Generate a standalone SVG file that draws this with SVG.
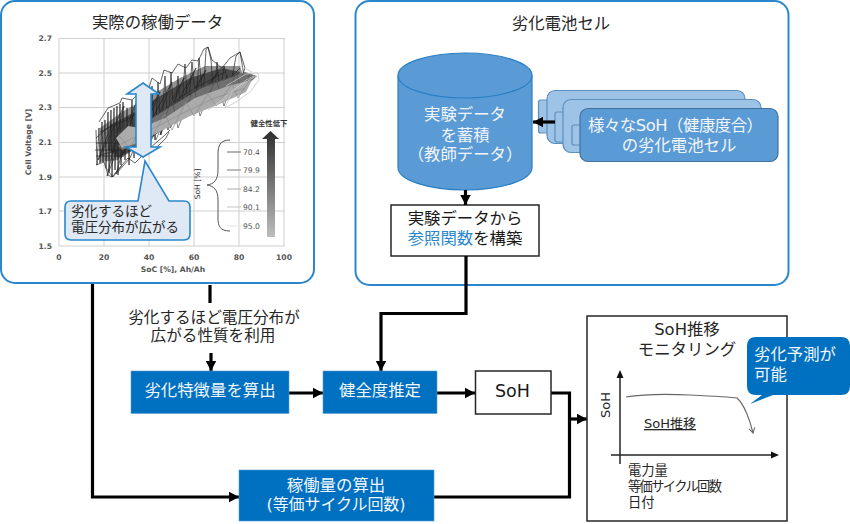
<svg xmlns="http://www.w3.org/2000/svg" width="850" height="524" viewBox="0 0 850 524">
<style>
text{font-family:"DejaVu Sans","Noto Sans CJK JP",sans-serif;fill:#262626;font-size:16.400px}
.m{text-anchor:middle}
.w{fill:#f2f6fb}
.panel{fill:#fff;stroke:#2a87cb;stroke-width:2}
.blue{fill:#0070c0;stroke:#5b9bd5;stroke-width:.6}
.box{fill:#fff;stroke:#262626;stroke-width:1.500}
.con{fill:none;stroke:#000;stroke-width:3.200}
.grid{stroke:#cfcfcf;stroke-width:1;fill:none}
.tick{font-size:7.600px;fill:#555;font-weight:bold}
.leg{font-size:7.600px;fill:#555}
.k{fill:none;stroke:#222;stroke-width:.7}
.d{fill:none;stroke:#4d4d4d;stroke-width:.7}
.g{fill:none;stroke:#8c8c8c;stroke-width:.7}
.l{fill:none;stroke:#c8c8c8;stroke-width:.8}
.light{fill:#dfe9f5;stroke:#2a87cb;stroke-width:1.600}
.stack{fill:#9dc3e6;stroke:#5d8fbd;stroke-width:1.200}
.front{fill:#5b9bd5;stroke:#41719c;stroke-width:1.200}
.cyl{fill:#5b9bd5;stroke:#2a7fc4;stroke-width:1.200}
</style>
<defs>
<marker id="ah" markerUnits="userSpaceOnUse" markerWidth="12" markerHeight="12" refX="11" refY="6" orient="auto"><path d="M1 .8L11 6L1 11.200z" fill="#000"/></marker>
<marker id="sh" markerUnits="userSpaceOnUse" markerWidth="8" markerHeight="8" refX="6" refY="4" orient="auto"><path d="M1 1L6 4L1 7" fill="none" stroke="#666" stroke-width="1"/></marker>
<linearGradient id="gr" x1="0" y1="0" x2="0" y2="1"><stop offset="0" stop-color="#2e2e2e"/><stop offset="1" stop-color="#bdbdbd"/></linearGradient>
<filter id="soft" x="-5%" y="-5%" width="110%" height="110%"><feGaussianBlur stdDeviation=".3"/></filter>
</defs>

<g id="panel-real">
<rect class="panel" x="1" y="1" width="313" height="282" rx="14"/>
<text class="m" x="157.500" y="28">実際の稼働データ</text>
</g>

<g id="chart">
<path class="grid" d="M59 38.500H285M59 73H285M59 107.500H285M59 142.500H285M59 177H285M59 211H285M59 246H285M59 38V246M104 38V246M149 38V246M194 38V246M239 38V246M284 38V246"/>
<g text-anchor="end">
<text class="tick" x="52" y="41">2.7</text><text class="tick" x="52" y="76">2.5</text><text class="tick" x="52" y="110">2.3</text><text class="tick" x="52" y="145">2.1</text><text class="tick" x="52" y="180">1.9</text><text class="tick" x="52" y="214">1.7</text><text class="tick" x="52" y="249">1.5</text>
</g>
<g text-anchor="middle">
<text class="tick" x="59" y="260">0</text><text class="tick" x="104" y="260">20</text><text class="tick" x="149" y="260">40</text><text class="tick" x="194" y="260">60</text><text class="tick" x="239" y="260">80</text><text class="tick" x="284" y="260">100</text>
<text class="tick" x="173" y="272">SoC [%], Ah/Ah</text>
<text class="tick" transform="translate(31 142) rotate(-90)" x="0" y="0">Cell Voltage [V]</text>
</g>
<g filter="url(#soft)">
<path d="M100 128L122 112L150 96L180 78L205 66L240 66L244 78L205 102L170 124L140 146L118 160L100 162z" fill="#3a3a3a" fill-opacity=".55"/>
<path d="M110 125L135 112L160 96L190 78L222 68L240 72L236 88L205 102L170 124L140 146L118 158L108 150z" fill="#4a4a4a"/>
<path class="k" d="M96 130L97 165L99 128L100 163L102 122L103 162L105 120L106 168L108 112L109 172L111 110L112 177L114 108L115 170L117 106L118 175L120 104L121 165L123 102L125 160L127 108L129 165L132 100L134 158L137 104L139 152L142 92L144 150L147 96L149 148L152 86L155 140L158 82L161 135L165 76L168 130L171 72L174 122L178 76L181 118L185 64L188 112L192 62L196 105L199 58L203 100L206 50L208 47L211 60L214 100L217 62L220 95L224 66L230 90L236 56L240 52L243 70L246 85"/>
<path class="k" d="M96 138L112 124L98 160L124 106L107 176L138 98L116 174L130 158L150 110L122 155L160 92L134 152L172 82L146 150L184 78L160 135L196 68L170 128L206 70L182 118L218 72L196 108L228 76L206 102L240 68"/>
<path class="k" d="M99 122L108 108L120 103L122 98L132 100L140 92L148 91L152 78L160 84L164 70L172 73L178 64L186 68L192 60L198 61L204 49L208 47L212 60L222 68L230 58L240 52L245 68L240 82"/>
<path class="k" d="M96 165L104 162L108 175L112 177L122 165L128 158L135 163L142 156L150 150L158 146L166 138L169 132"/>
<path class="k" d="M95 150H118M96 143H130M96 156H124M100 132L126 120L150 105M100 155L120 150L146 128L170 105L195 88L225 72"/>
<path d="M118 146L135 128L170 107L205 86L245 72L257 76L240 92L205 106L170 124L140 144L122 150z" fill="#707070"/>
<path class="d" d="M112 145L128 122L136 146L150 112L156 140L172 100L178 128L194 88L200 116L216 78L224 106L236 72L242 92L250 74"/>
<path class="d" d="M115 135L150 120L190 92L235 76M120 148L160 125L200 104L240 90"/>
<path d="M116 138L128 126L140 128L165 118L195 98L228 86L252 80L246 92L222 103L190 116L165 129L140 142L122 148z" fill="#ababab"/>
<path class="g" d="M118 135L130 148L142 126L150 140L165 114L172 130L186 102L194 116L208 94L216 106L232 84L238 98L250 80"/>
<path class="g" d="M121 144L150 130L185 112L215 98L245 88"/>
<path class="l" d="M226 86L246 74L258 73L259 80L250 92L236 102L225 108L232 92L246 80L254 76"/>
<path class="l" d="M216 104L236 88L256 76M208 110L228 97M240 66L252 72"/>
<path class="k" d="M106 168L113 177L122 165M150 148L165 135L170 130"/>
</g>
<g id="legend">
<path d="M230 140C220 140 218 146 218 154V170C218 180 214 184 207 185C214 186 218 190 218 200V218C218 226 220 231 230 231" fill="none" stroke="#555" stroke-width="1"/>
<path d="M227 152H241" stroke="#666" stroke-width="1"/><path d="M227 170H241" stroke="#999" stroke-width="1.300"/><path d="M227 189H241" stroke="#aaa" stroke-width="1"/><path d="M227 207H241" stroke="#c4c4c4" stroke-width="1"/><path d="M227 226H241" stroke="#e2e2e2" stroke-width="1"/>
<text class="leg" x="243" y="155">70.4</text><text class="leg" x="243" y="173">79.9</text><text class="leg" x="243" y="192">84.2</text><text class="leg" x="243" y="210">90.1</text><text class="leg" x="243" y="229">95.0</text>
<text class="leg m" transform="translate(200 184) rotate(-90)" style="fill:#333">SoH [%]</text>
<path d="M270.500 131L279 139H275V237H267V139H262z" fill="url(#gr)"/>
<text class="m" x="269" y="126" style="font-size:7.400px;font-weight:bold;fill:#333">健全性低下</text>
</g>
</g>

<g id="double-arrow"><path class="light" d="M143 83L159 94H151V147H160L143 157L126 147H136V94H127z"/></g>

<g id="callout-spread">
<path class="light" d="M71 201H138L145 161L169 201H184Q190 201 190 207V234Q190 240 184 240H71Q65 240 65 234V207Q65 201 71 201z"/>
<text x="71" y="216" style="font-size:13.500px">劣化するほど</text>
<text x="71" y="232" style="font-size:13.500px">電圧分布が広がる</text>
</g>

<g id="panel-cell">
<rect class="panel" x="355.500" y="1" width="433" height="284" rx="14"/>
<text class="m" x="561" y="29">劣化電池セル</text>
</g>

<g id="cells">
<rect class="stack" x="538.500" y="100" width="20" height="33" rx="2"/>
<rect class="stack" x="547" y="90.500" width="198" height="53" rx="8"/>
<rect class="stack" x="555" y="112" width="20" height="30" rx="2"/>
<rect class="stack" x="563" y="99.500" width="198" height="53" rx="8"/>
<rect class="stack" x="572" y="125" width="20" height="20" rx="2"/>
<rect class="front" x="580" y="108.500" width="198" height="53" rx="8"/>
<text class="w" x="588" y="131" textLength="175">様々なSoH（健康度合）</text>
<text class="w m" x="679" y="151">の劣化電池セル</text>
</g>

<g id="cylinder">
<path class="cyl" d="M398 75.500V167.500C398 180 428 190 465 190S532 180 532 167.500V75.500"/>
<ellipse class="cyl" cx="465" cy="75.500" rx="67" ry="22.500"/>
<text class="w m" x="465" y="120">実験データ</text>
<text class="w m" x="465" y="141">を蓄積</text>
<text class="w m" x="465" y="160">（教師データ）</text>
</g>

<g id="ref-function">
<rect class="box" x="391" y="205" width="148" height="51"/>
<text class="m" x="465" y="224" style="fill:#1a1a1a">実験データから</text>
<text class="m" x="465" y="244" style="fill:#1a1a1a"><tspan style="fill:#2a87cb">参照関数</tspan>を構築</text>
</g>

<g id="connectors">
<path class="con" d="M555 122H533" marker-end="url(#ah)"/>
<path class="con" d="M465.500 190V205" marker-end="url(#ah)"/>
<path class="con" d="M466 256V313.500H381V371" marker-end="url(#ah)"/>
<path class="con" d="M210 285V303"/>
<path class="con" d="M211 353V371" marker-end="url(#ah)"/>
<path class="con" d="M92.500 284V497H239" marker-end="url(#ah)"/>
<path class="con" d="M289 393H323" marker-end="url(#ah)"/>
<path class="con" d="M437 393H475" marker-end="url(#ah)"/>
<path class="con" d="M551 393H569.500V497H434"/>
<path class="con" d="M569.500 419H587" marker-end="url(#ah)"/>
</g>

<g id="note"><text class="m" x="214" y="323" style="font-size:15.600px">劣化するほど電圧分布が</text><text class="m" x="213" y="341" style="font-size:15.600px">広がる性質を利用</text></g>

<g id="feature"><rect class="blue" x="131" y="371" width="158" height="42.500"/><text class="w m" x="210" y="396">劣化特徴量を算出</text></g>
<g id="estimate"><rect class="blue" x="323" y="371" width="114" height="42.500"/><text class="w m" x="380" y="396">健全度推定</text></g>
<g id="soh"><rect class="box" x="475.500" y="371" width="75.500" height="43"/><text class="m" x="512.500" y="397" style="fill:#1a1a1a;font-size:17.500px">SoH</text></g>
<g id="usage"><rect class="blue" x="239" y="470" width="195" height="51"/><text class="w m" x="336" y="491">稼働量の算出</text><text class="w" x="266.500" y="510" textLength="139" style="font-size:16px">(等価サイクル回数)</text></g>

<g id="monitor">
<rect class="box" x="587" y="316" width="200" height="205"/>
<text class="m" x="687" y="335">SoH推移</text>
<text class="m" x="687" y="355">モニタリング</text>
<path d="M620 464V377M611 455H772" fill="none" stroke="#262626" stroke-width="1.500"/>
<path d="M620 370L623.500 378H616.500zM779 455L771 451.500V458.500z" fill="#111"/>
<text class="m" transform="translate(610 405) rotate(-90)" style="font-size:13px">SoH</text>
<path d="M626 397Q650 393 690 395T737 398C744 404 750 420 753 433" fill="none" stroke="#666" stroke-width="1.200" marker-end="url(#sh)"/>
<text x="644" y="428" style="font-size:13px;text-decoration:underline">SoH推移</text>
<text x="628" y="475" style="font-size:13.300px">電力量</text>
<text x="628" y="491" textLength="94" style="font-size:13.300px">等価サイクル回数</text>
<text x="628" y="507" style="font-size:13.300px">日付</text>
</g>

<g id="callout-predict">
<path d="M756 337H841Q850 337 850 346V386Q850 395 841 395H773L750 404L762 395H756Q747 395 747 386V346Q747 337 756 337z" fill="#0070c0"/>
<text class="w" x="754" y="360">劣化予測が</text>
<text class="w" x="754" y="380">可能</text>
</g>
</svg>
